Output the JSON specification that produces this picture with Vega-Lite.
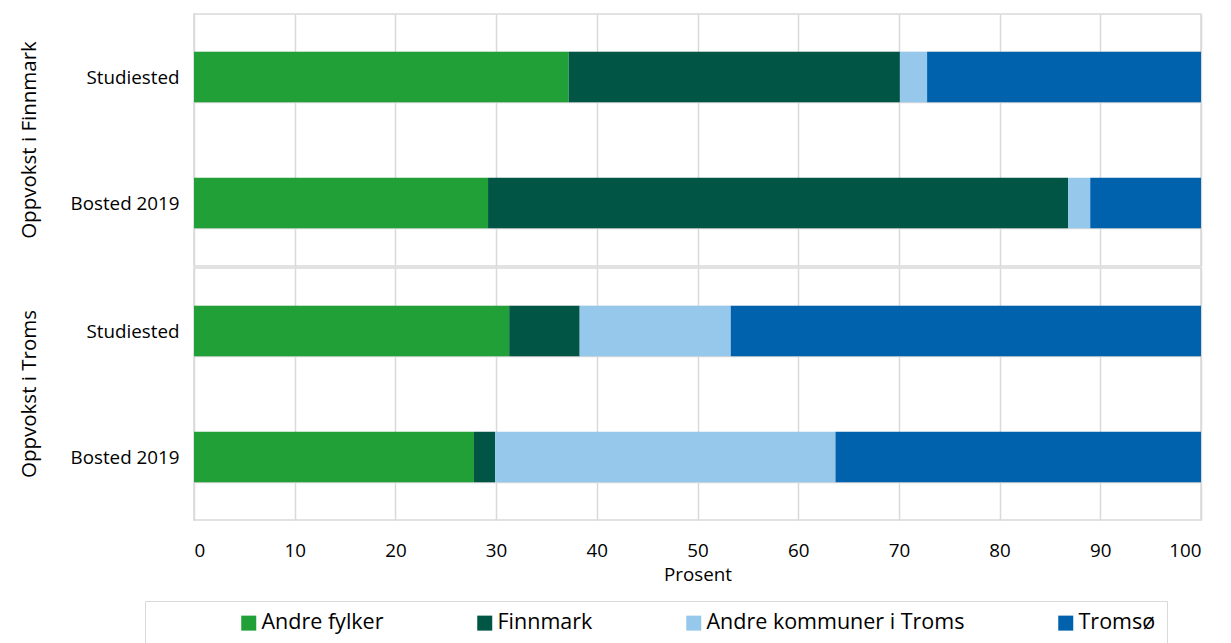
{
  "$schema": "https://vega.github.io/schema/vega-lite/v6.json",
  "background": "white",
  "padding": {"left": 19, "top": 5, "right": 10, "bottom": 0},
  "data": {"values": [
    {"gruppe": "Oppvokst i Finnmark", "kategori": "Studiested", "bosted": "Andre fylker", "nr": 1, "prosent": 37.2},
    {"gruppe": "Oppvokst i Finnmark", "kategori": "Studiested", "bosted": "Finnmark", "nr": 2, "prosent": 32.9},
    {"gruppe": "Oppvokst i Finnmark", "kategori": "Studiested", "bosted": "Andre kommuner i Troms", "nr": 3, "prosent": 2.7},
    {"gruppe": "Oppvokst i Finnmark", "kategori": "Studiested", "bosted": "Tromsø", "nr": 4, "prosent": 27.2},
    {"gruppe": "Oppvokst i Finnmark", "kategori": "Bosted 2019", "bosted": "Andre fylker", "nr": 1, "prosent": 29.2},
    {"gruppe": "Oppvokst i Finnmark", "kategori": "Bosted 2019", "bosted": "Finnmark", "nr": 2, "prosent": 57.6},
    {"gruppe": "Oppvokst i Finnmark", "kategori": "Bosted 2019", "bosted": "Andre kommuner i Troms", "nr": 3, "prosent": 2.2},
    {"gruppe": "Oppvokst i Finnmark", "kategori": "Bosted 2019", "bosted": "Tromsø", "nr": 4, "prosent": 11.0},
    {"gruppe": "Oppvokst i Troms", "kategori": "Studiested", "bosted": "Andre fylker", "nr": 1, "prosent": 31.3},
    {"gruppe": "Oppvokst i Troms", "kategori": "Studiested", "bosted": "Finnmark", "nr": 2, "prosent": 7.0},
    {"gruppe": "Oppvokst i Troms", "kategori": "Studiested", "bosted": "Andre kommuner i Troms", "nr": 3, "prosent": 15.0},
    {"gruppe": "Oppvokst i Troms", "kategori": "Studiested", "bosted": "Tromsø", "nr": 4, "prosent": 46.7},
    {"gruppe": "Oppvokst i Troms", "kategori": "Bosted 2019", "bosted": "Andre fylker", "nr": 1, "prosent": 27.8},
    {"gruppe": "Oppvokst i Troms", "kategori": "Bosted 2019", "bosted": "Finnmark", "nr": 2, "prosent": 2.1},
    {"gruppe": "Oppvokst i Troms", "kategori": "Bosted 2019", "bosted": "Andre kommuner i Troms", "nr": 3, "prosent": 33.8},
    {"gruppe": "Oppvokst i Troms", "kategori": "Bosted 2019", "bosted": "Tromsø", "nr": 4, "prosent": 36.3}
  ]},
  "facet": {
    "row": {
      "field": "gruppe", "type": "nominal",
      "sort": ["Oppvokst i Finnmark", "Oppvokst i Troms"],
      "header": {"title": null, "labelAngle": -90, "labelOrient": "left", "labelFont": "Open Sans", "labelFontSize": 20.5, "labelColor": "#000000", "labelPadding": 20}
    }
  },
  "spacing": 0,
  "spec": {
    "width": 1007,
    "height": 252,
    "mark": {"type": "bar"},
    "encoding": {
      "y": {
        "field": "kategori", "type": "nominal",
        "sort": ["Studiested", "Bosted 2019"],
        "scale": {"paddingInner": 0.6, "paddingOuter": 0.3},
        "axis": {"title": null, "ticks": false, "domain": false, "grid": true, "tickBand": "extent", "gridColor": "#d9d9d9", "gridWidth": 1.5, "labelPadding": 14, "labelFontSize": 18.8, "labelColor": "#000000", "labelFont": "Open Sans"}
      },
      "x": {
        "field": "prosent", "type": "quantitative", "stack": "zero",
        "scale": {"domain": [0, 100], "nice": false},
        "axis": {"title": "Prosent", "values": [0, 10, 20, 30, 40, 50, 60, 70, 80, 90, 100], "ticks": false, "domain": false, "gridColor": "#d9d9d9", "gridWidth": 1.5, "labelPadding": 20, "labelFontSize": 18.8, "labelColor": "#000000", "labelFont": "Open Sans", "titleFont": "Open Sans", "titleFontSize": 18.8, "titleFontWeight": "normal", "titleColor": "#000000", "titlePadding": 6}
      },
      "order": {"field": "nr", "type": "quantitative", "sort": "ascending"},
      "color": {
        "field": "bosted", "type": "nominal",
        "sort": ["Andre fylker", "Finnmark", "Andre kommuner i Troms", "Tromsø"],
        "scale": {"domain": ["Andre fylker", "Finnmark", "Andre kommuner i Troms", "Tromsø"], "range": ["#21a038", "#005545", "#96c8ec", "#0062ad"]},
        "legend": {"title": " ", "titleOrient": "left", "titlePadding": 82, "titleFontSize": 4, "orient": "none", "legendX": -49, "legendY": 587, "direction": "horizontal", "symbolType": "square", "symbolSize": 225, "symbolStrokeWidth": 0, "labelFontSize": 21.5, "labelFont": "Open Sans", "labelColor": "#000000", "labelOffset": 2, "columnPadding": 90, "strokeColor": "#d9d9d9", "padding": 11, "labelLimit": 400}
      }
    }
  },
  "config": {
    "view": {"stroke": "#d9d9d9", "strokeWidth": 1.5},
    "font": "Open Sans"
  }
}
